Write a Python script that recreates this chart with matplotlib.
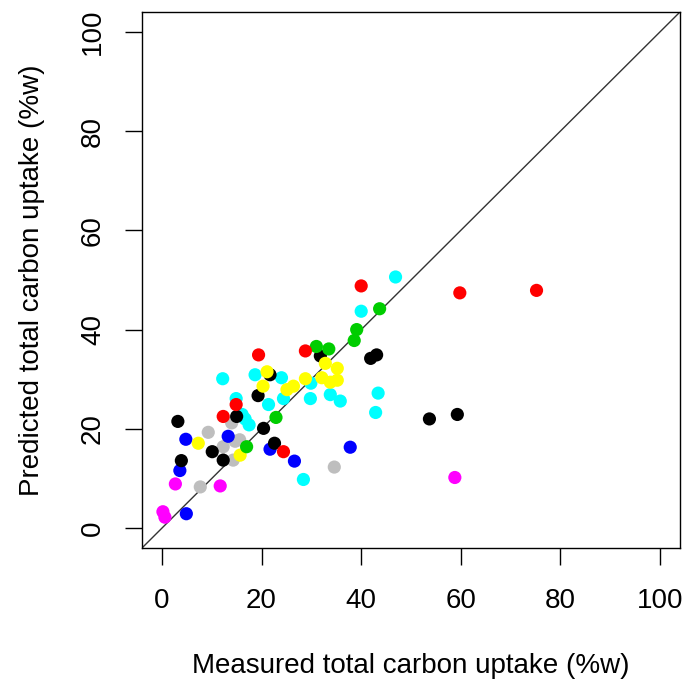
import matplotlib.pyplot as plt

plt.rcParams['font.family'] = ['Liberation Sans', 'DejaVu Sans']

# measured (x) vs predicted (y) total carbon uptake, by group colour
gray_x = [9.3, 12.3, 14.7, 15.6, 14.0, 14.3, 7.7, 34.6]
gray_y = [19.3, 16.4, 17.5, 17.8, 21.2, 13.7, 8.3, 12.3]

magenta_x = [2.7, 11.7, 0.2, 0.6, 58.8]
magenta_y = [8.9, 8.5, 3.3, 2.2, 10.2]

blue_x = [4.8, 13.3, 3.6, 4.9, 21.7, 26.6, 37.8]
blue_y = [17.9, 18.5, 11.6, 2.9, 15.9, 13.5, 16.3]

cyan_x = [12.2, 14.9, 16.1, 17.5, 16.7, 18.7, 21.4, 24.0, 24.4, 29.9, 29.8,
          33.8, 35.8, 43.4, 42.9, 40.0, 46.9, 28.4]
cyan_y = [30.1, 26.1, 22.9, 20.8, 22.0, 30.9, 24.9, 30.3, 26.1, 29.2, 26.1,
          26.9, 25.6, 27.2, 23.3, 43.7, 50.6, 9.8]

black_x = [3.2, 10.1, 12.3, 3.9, 15.0, 19.3, 20.4, 22.6, 21.7, 31.8, 41.9,
           43.1, 53.7, 59.3]
black_y = [21.5, 15.4, 13.7, 13.6, 22.5, 26.7, 20.1, 17.1, 30.9, 34.7, 34.2,
           34.9, 22.0, 22.9]

yellow_x = [7.3, 15.7, 20.3, 21.1, 25.1, 26.4, 28.8, 32.8, 35.2, 35.2, 33.8,
            32.1]
yellow_y = [17.1, 14.7, 28.6, 31.5, 27.9, 28.6, 30.1, 33.2, 32.2, 29.8, 29.4,
            30.3]

green_x = [17.0, 22.9, 31.0, 33.5, 39.1, 38.6, 43.7]
green_y = [16.4, 22.3, 36.6, 36.1, 40.0, 37.8, 44.2]

red_x = [12.3, 14.9, 19.4, 28.8, 24.4, 40.0, 59.8, 75.2]
red_y = [22.5, 24.9, 34.9, 35.7, 15.4, 48.8, 47.4, 47.9]

groups = [
    (gray_x, gray_y, '#bebebe'),
    (magenta_x, magenta_y, '#ff00ff'),
    (blue_x, blue_y, '#0000ff'),
    (cyan_x, cyan_y, '#00ffff'),
    (black_x, black_y, '#000000'),
    (yellow_x, yellow_y, '#ffff00'),
    (green_x, green_y, '#00cd00'),
    (red_x, red_y, '#ff0000'),
]

fig = plt.figure(figsize=(6.85, 6.83), dpi=100)
ax = fig.add_axes([0.2073, 0.1977, 0.7854, 0.7848])

for gx, gy, col in groups:
    ax.scatter(gx, gy, s=90, c=col, edgecolors='none', zorder=3)

ax.plot([-4, 104], [-4, 104], color='#333333', lw=1, zorder=2)

ax.set_xlim(-4, 104)
ax.set_ylim(-4, 104)
ax.set_xticks([0, 20, 40, 60, 80, 100])
ax.set_yticks([0, 20, 40, 60, 80, 100])
ax.tick_params(direction='out', length=12, width=1, labelsize=20)
ax.tick_params(axis='x', pad=17)
ax.tick_params(axis='y', pad=14)
for lab in ax.get_yticklabels():
    lab.set_rotation(90)
    lab.set_va('center')
for sp in ax.spines.values():
    sp.set_linewidth(1)

ax.set_xlabel('Measured total carbon uptake (%w)', fontsize=20, labelpad=28)
ax.set_ylabel('Predicted total carbon uptake (%w)', fontsize=20, labelpad=25)

plt.savefig('out.png', dpi=100)
